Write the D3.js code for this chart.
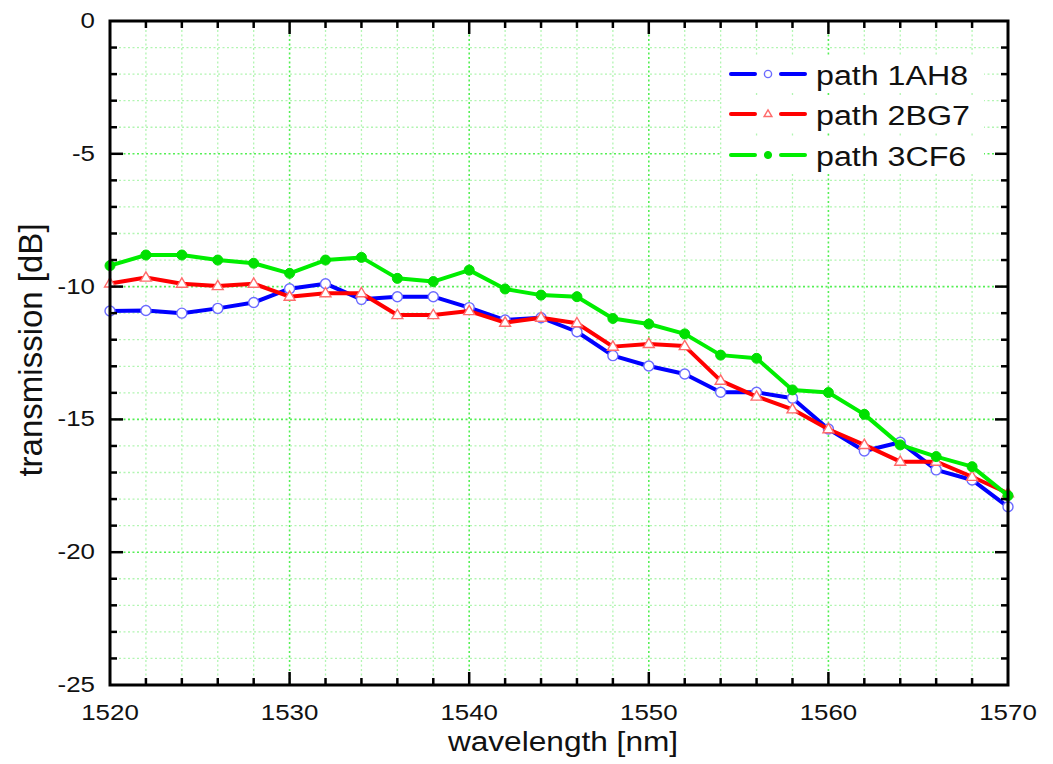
<!DOCTYPE html>
<html>
<head>
<meta charset="utf-8">
<script src="https://cdn.jsdelivr.net/npm/d3@7"></script>
<style>
  body { margin: 0; background: #fff; }
  svg { display: block; font-family: "Liberation Sans", Arial, sans-serif; }
</style>
</head>
<body>
<svg id="chart" width="1053" height="764"></svg>
<script>
// Wavelength sweep, 2 nm steps
const wavelength = [1520,1522,1524,1526,1528,1530,1532,1534,1536,1538,1540,1542,1544,
                    1546,1548,1550,1552,1554,1556,1558,1560,1562,1564,1566,1568,1570];

const path1AH8 = [-10.92,-10.90,-11.00,-10.82,-10.60,-10.08,-9.89,-10.48,-10.38,-10.38,-10.79,-11.26,-11.17,
                  -11.70,-12.60,-12.99,-13.29,-13.98,-13.98,-14.20,-15.36,-16.19,-15.86,-16.90,-17.28,-18.29];
const path2BG7 = [-9.88,-9.66,-9.89,-9.98,-9.89,-10.38,-10.25,-10.25,-11.07,-11.07,-10.92,-11.36,-11.17,
                  -11.38,-12.26,-12.16,-12.24,-13.54,-14.14,-14.62,-15.37,-15.96,-16.59,-16.59,-17.16,-17.78];
const path3CF6 = [-9.21,-8.81,-8.81,-9.00,-9.12,-9.50,-9.00,-8.90,-9.69,-9.81,-9.38,-10.09,-10.32,
                  -10.38,-11.20,-11.41,-11.78,-12.58,-12.70,-13.89,-13.99,-14.81,-15.96,-16.40,-16.78,-17.87];

const seriesNames = ["path 1AH8", "path 2BG7", "path 3CF6"];
const xTicks = [1520, 1530, 1540, 1550, 1560, 1570];
const yTicks = [0, -5, -10, -15, -20, -25];

const series = [
  { name: seriesNames[0], values: path1AH8, line: "#0000ff", mark: "circle", stroke: "#6b6bff", fill: "#fff" },
  { name: seriesNames[1], values: path2BG7, line: "#ff0000", mark: "triangle", stroke: "#ff6b6b", fill: "#fff" },
  { name: seriesNames[2], values: path3CF6, line: "#00ee00", mark: "dot", stroke: "#00e000", fill: "#00e000" }
];

const svg = d3.select("#chart");
const m = { left: 110, top: 21, right: 1008, bottom: 685 };
const SX = 1.15; // horizontal widening of text glyphs

const x = d3.scaleLinear().domain([1520, 1570]).range([m.left, m.right]);
const y = d3.scaleLinear().domain([-25, 0]).range([m.bottom, m.top]);

// Grid: minor every 2 nm / 1 dB, major every 10 nm / 5 dB
const xMinor = d3.range(1522, 1570, 2);
const yMinor = d3.range(-24, 0, 1);
const grid = svg.append("g");
const gridStyle = sel => sel
  .attr("stroke", d => d % 5 === 0 ? "#55ef55" : "#b2f5b2")
  .attr("stroke-width", d => d % 5 === 0 ? 1.6 : 1.3)
  .attr("stroke-dasharray", "2,2.5");
grid.selectAll(".vx").data(xMinor).join("line")
  .attr("x1", d => x(d)).attr("x2", d => x(d))
  .attr("y1", m.top).attr("y2", m.bottom)
  .call(gridStyle);
grid.selectAll(".hy").data(yMinor).join("line")
  .attr("x1", m.left).attr("x2", m.right)
  .attr("y1", d => y(d)).attr("y2", d => y(d))
  .call(gridStyle);

// Series lines and markers
const line = d3.line().x((d, i) => x(wavelength[i])).y(d => y(d));
const triPath = (cx, cy, s) => `M${cx},${cy - s}L${cx + s * 0.95},${cy + s * 0.62}L${cx - s * 0.95},${cy + s * 0.62}Z`;

function drawMarker(g, s, cx, cy, size) {
  if (s.mark === "circle") {
    g.append("circle").attr("cx", cx).attr("cy", cy).attr("r", size)
      .attr("fill", s.fill).attr("stroke", s.stroke).attr("stroke-width", 1.4);
  } else if (s.mark === "triangle") {
    g.append("path").attr("d", triPath(cx, cy, size * 1.15))
      .attr("fill", s.fill).attr("stroke", s.stroke).attr("stroke-width", 1.4);
  } else {
    g.append("circle").attr("cx", cx).attr("cy", cy).attr("r", size)
      .attr("fill", s.fill).attr("stroke", s.stroke).attr("stroke-width", 1);
  }
}

const plot = svg.append("g");
series.forEach(s => {
  plot.append("path").datum(s.values)
    .attr("d", line)
    .attr("fill", "none")
    .attr("stroke", s.line)
    .attr("stroke-width", 4)
    .attr("stroke-linejoin", "round");
  const mg = plot.append("g");
  s.values.forEach((v, i) => drawMarker(mg, s, x(wavelength[i]), y(v), 5));
});

// Frame
svg.append("rect")
  .attr("x", m.left).attr("y", m.top)
  .attr("width", m.right - m.left).attr("height", m.bottom - m.top)
  .attr("fill", "none").attr("stroke", "#000").attr("stroke-width", 3);

// Inward ticks on all four sides
const tickG = svg.append("g").attr("stroke", "#000").attr("stroke-width", 2.5);
d3.range(1522, 1570, 2).forEach(v => {
  const len = v % 10 === 0 ? 13 : 7;
  tickG.append("line").attr("x1", x(v)).attr("x2", x(v)).attr("y1", m.bottom).attr("y2", m.bottom - len);
  tickG.append("line").attr("x1", x(v)).attr("x2", x(v)).attr("y1", m.top).attr("y2", m.top + len);
});
d3.range(-24, 0, 1).forEach(v => {
  const len = v % 5 === 0 ? 13 : 7;
  tickG.append("line").attr("y1", y(v)).attr("y2", y(v)).attr("x1", m.left).attr("x2", m.left + len);
  tickG.append("line").attr("y1", y(v)).attr("y2", y(v)).attr("x1", m.right).attr("x2", m.right - len);
});

// Tick labels
svg.append("g").selectAll("text").data(xTicks).join("text")
  .attr("transform", d => `translate(${x(d)},${m.bottom + 35}) scale(${SX},1)`)
  .attr("text-anchor", "middle").attr("font-size", 22.5).attr("fill", "#111")
  .text(d => d);
svg.append("g").selectAll("text").data(yTicks).join("text")
  .attr("transform", d => `translate(${m.left - 15},${y(d) + 7}) scale(${SX},1)`)
  .attr("text-anchor", "end").attr("font-size", 22.5).attr("fill", "#111")
  .text(d => d);

// Axis titles
svg.append("text")
  .attr("transform", `translate(${(m.left + m.right) / 2 + 4},751) scale(${SX},1)`)
  .attr("text-anchor", "middle").attr("font-size", 27.5).attr("fill", "#111")
  .text("wavelength [nm]");
svg.append("text")
  .attr("transform", `translate(42,350) rotate(-90)`)
  .attr("text-anchor", "middle").attr("font-size", 33).attr("fill", "#111")
  .text("transmission [dB]");

// Legend
const legend = svg.append("g");
const legendRows = [74, 114, 155];
series.forEach((s, i) => {
  const ly = legendRows[i];
  const lg = legend.append("g");
  lg.append("rect").attr("x", 722).attr("y", ly - 17).attr("width", 262).attr("height", 36).attr("fill", "#fff");
  lg.append("line").attr("x1", 731).attr("x2", 755).attr("y1", ly).attr("y2", ly)
    .attr("stroke", s.line).attr("stroke-width", 4).attr("stroke-linecap", "round");
  lg.append("line").attr("x1", 781).attr("x2", 805).attr("y1", ly).attr("y2", ly)
    .attr("stroke", s.line).attr("stroke-width", 4).attr("stroke-linecap", "round");
  drawMarker(lg, s, 768, ly, 3.6);
  lg.append("text")
    .attr("transform", `translate(816,${ly + 11}) scale(${SX},1)`)
    .attr("font-size", 28).attr("fill", "#111").text(s.name);
});
</script>
</body>
</html>
